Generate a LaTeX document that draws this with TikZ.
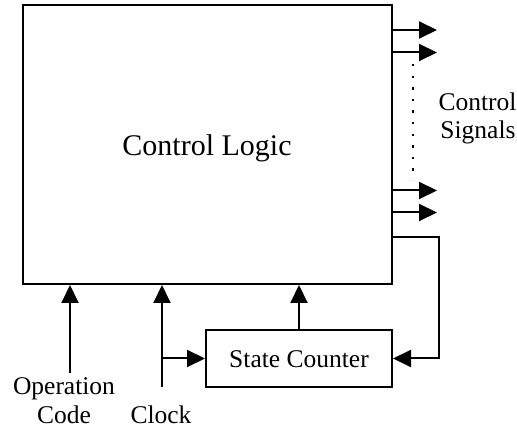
\documentclass[tikz,border=0pt]{standalone}
\usepackage{fontspec}
\setmainfont{Liberation Serif}
\usetikzlibrary{arrows.meta}
\begin{document}
\begin{tikzpicture}[x=1pt,y=-1pt,
  wire/.style={line width=2pt},
  arr/.style={wire,-{Triangle[length=18pt,width=17pt]}},
  blk/.style={draw,line width=2pt,inner sep=0pt},
  lbl/.style={anchor=base,inner sep=0pt,font=\fontsize{25.5}{29}\selectfont},
  biglbl/.style={anchor=base,inner sep=0pt,font=\fontsize{30}{34}\selectfont}]
\useasboundingbox (0,0) rectangle (517,430);
\node[blk,minimum width=369pt,minimum height=279pt] (logic) at (207.5,144.5) {};
\node[biglbl] (logictext) at (207,156) {Control Logic};
\node[blk,minimum width=186pt,minimum height=57pt] (sc) at (299,358.5) {};
\node[lbl] (sctext) at (299,367) {State Counter};
% control signal outputs
\coordinate (o1) at (437,30);
\coordinate (o2) at (437,52.5);
\coordinate (o3) at (437,190.5);
\coordinate (o4) at (437,212.5);
\draw[arr] (logic.east |- o1) -- (o1);
\draw[arr] (logic.east |- o2) -- (o2);
\draw[arr] (logic.east |- o3) -- (o3);
\draw[arr] (logic.east |- o4) -- (o4);
\coordinate (d1) at (413,64);
\coordinate (d2) at (413,180);
\draw[line width=2.4pt,dash pattern=on 2.4pt off 9.2pt] (d1) -- (d2);
\node[lbl] (cs1) at (477.5,111) {Control};
\node[lbl] (cs2) at (478,139) {Signals};
% feedback
\coordinate (f1) at (439,237);
\draw[arr] (logic.east |- f1) -- (f1) |- (sc.east);
\draw[arr] (sc.north) -- (sc.north |- logic.south);
% inputs
\coordinate (op) at (70,373);
\draw[arr] (op) -- (op |- logic.south);
\coordinate (clk) at (162,387);
\draw[arr] (clk) -- (clk |- logic.south);
\draw[arr] (clk |- sc.west) -- (sc.west);
\node[lbl] (opt1) at (64,395) {Operation};
\node[lbl] (opt2) at (64,424) {Code};
\node[lbl] (clkt) at (161,424) {Clock};
\end{tikzpicture}
\end{document}
